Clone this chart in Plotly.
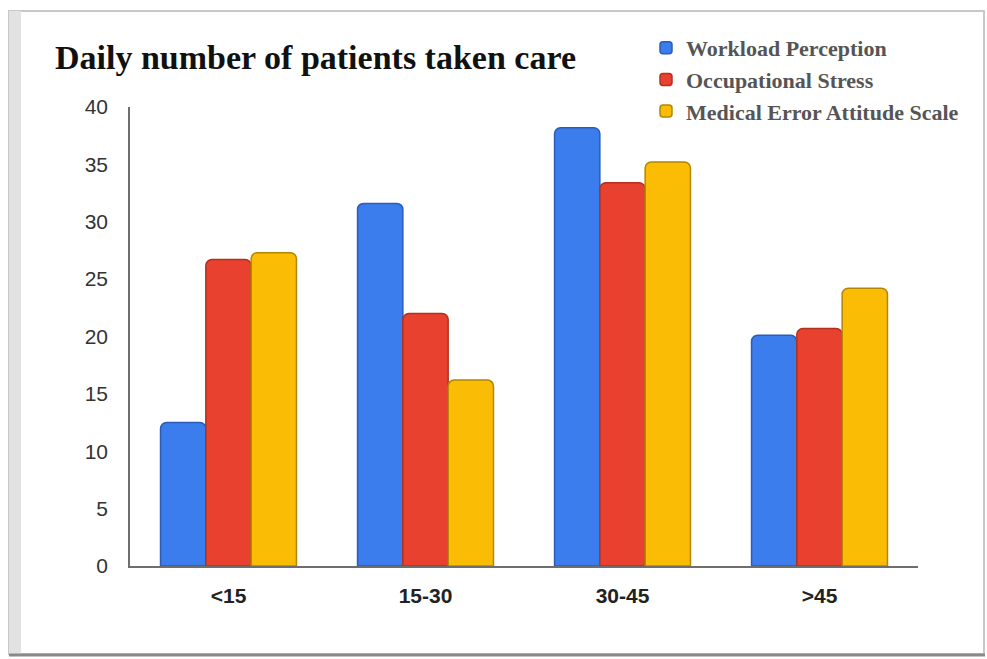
import plotly.graph_objects as go

categories = ["<15", "15-30", "30-45", ">45"]
workload = [12.5, 31.6, 38.2, 20.1]
stress = [26.7, 22.0, 33.4, 20.7]
mea_scale = [27.3, 16.2, 35.2, 24.2]
series_names = ["Workload Perception", "Occupational Stress", "Medical Error Attitude Scale"]
y_ticks = [0, 5, 10, 15, 20, 25, 30, 35, 40]

colors = ["#3b7ded", "#e9412f", "#fbbc05"]
edge_colors = ["#2a5cb8", "#b3301f", "#b38600"]

fig = go.Figure()
for i, (name, vals) in enumerate(zip(series_names, [workload, stress, mea_scale])):
    fig.add_trace(go.Bar(
        x=categories, y=vals, name=name, legendgroup=name,
        marker=dict(color=colors[i], line=dict(color=edge_colors[i], width=1.5), cornerradius=6),
    ))

W, H = 987, 659
L, R, T, B = 130, 69, 107, 93
pw, ph = W - L - R, H - T - B

def px_x(p):
    return (p - L) / pw

def px_y(p):
    return (H - B - p) / ph

shapes = [
    # frame
    dict(type="rect", xref="paper", yref="paper", x0=px_x(9), x1=px_x(984), y0=px_y(654), y1=px_y(11),
         line=dict(color="#c8c8c8", width=2), fillcolor="rgba(0,0,0,0)", layer="below"),
    dict(type="rect", xref="paper", yref="paper", x0=px_x(9), x1=px_x(21), y0=px_y(654), y1=px_y(11),
         line=dict(width=0), fillcolor="#e2e2e2", layer="below"),
    dict(type="line", xref="paper", yref="paper", x0=px_x(9), x1=px_x(985), y0=px_y(655), y1=px_y(655),
         line=dict(color="#8a8a8a", width=3)),
]

fig.update_layout(
    width=W, height=H,
    margin=dict(l=L, r=R, t=T, b=B),
    paper_bgcolor="white", plot_bgcolor="white",
    barmode="group", bargap=0.31, bargroupgap=0,
    title=dict(text="<b>Daily number of patients taken care</b>", x=55 / W, xanchor="left",
               xref="container", yref="container", y=1 - 57 / H, yanchor="middle",
               font=dict(family="Liberation Serif, Times New Roman, serif", size=34, color="#111111")),
    legend=dict(x=px_x(646), y=px_y(27), xanchor="left", yanchor="top", tracegroupgap=0,
                font=dict(family="Liberation Serif, Times New Roman, serif", size=22, color="#555555",
                          weight="bold"),
                itemwidth=30, bgcolor="rgba(0,0,0,0)"),
    shapes=shapes,
    showlegend=True,
)
fig.update_yaxes(range=[0, 40], tickvals=y_ticks, showgrid=False, zeroline=False,
                 showline=True, linecolor="#6e6e6e", linewidth=1.5, ticks="",
                 ticklabelstandoff=16,
                 tickfont=dict(family="Liberation Sans, Arial, sans-serif", size=21, color="#333333"))
fig.update_xaxes(showgrid=False, showline=True, linecolor="#6e6e6e", linewidth=1.5, ticks="",
                 ticklabelstandoff=10,
                 tickfont=dict(family="Liberation Sans, Arial, sans-serif", size=21, color="#222222",
                               weight="bold"))

fig.write_html("out.html")
